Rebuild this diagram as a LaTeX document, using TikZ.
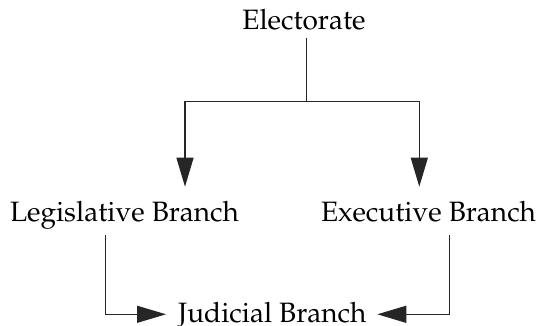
\documentclass[tikz,border=0pt]{standalone}
\usepackage[T1]{fontenc}
\usepackage{mathpazo}
\usetikzlibrary{arrows.meta,calc}
\begin{document}
\begin{tikzpicture}[x=1pt,y=1pt,
  lbl/.style={inner sep=0pt,outer sep=0pt,anchor=base,font=\fontsize{28}{33}\selectfont},
  conn/.style={line width=1.2pt,draw=black!85},
  tip/.style={-{Triangle[length=29pt,width=17pt]}}]
\useasboundingbox (0,0) rectangle (541,-326);
\node[lbl] (elect) at (304,-30) {Electorate};
\node[lbl,anchor=base west] (leg) at (10,-221) {Legislative Branch};
\node[lbl,anchor=base east] (exe) at (536,-221) {Executive Branch};
\node[lbl,anchor=base west] (jud) at (178,-322) {Judicial Branch};
\coordinate (etop) at (306.7,-38);
\coordinate (j) at (306.7,-101.7);
\coordinate (la) at (185,-186.7);
\coordinate (ra) at (419.3,-186.7);
\coordinate (ls) at (105.7,-235);
\coordinate (rs) at (449.3,-235);
\coordinate (lt) at (166,-314.3);
\coordinate (rt) at (377.3,-314.3);
\draw[conn] (etop) -- (j);
\draw[conn,tip] (j) -| (la);
\draw[conn,tip] (j) -| (ra);
\draw[conn,tip] (ls) |- (lt);
\draw[conn,tip] (rs) |- (rt);
\end{tikzpicture}
\end{document}
